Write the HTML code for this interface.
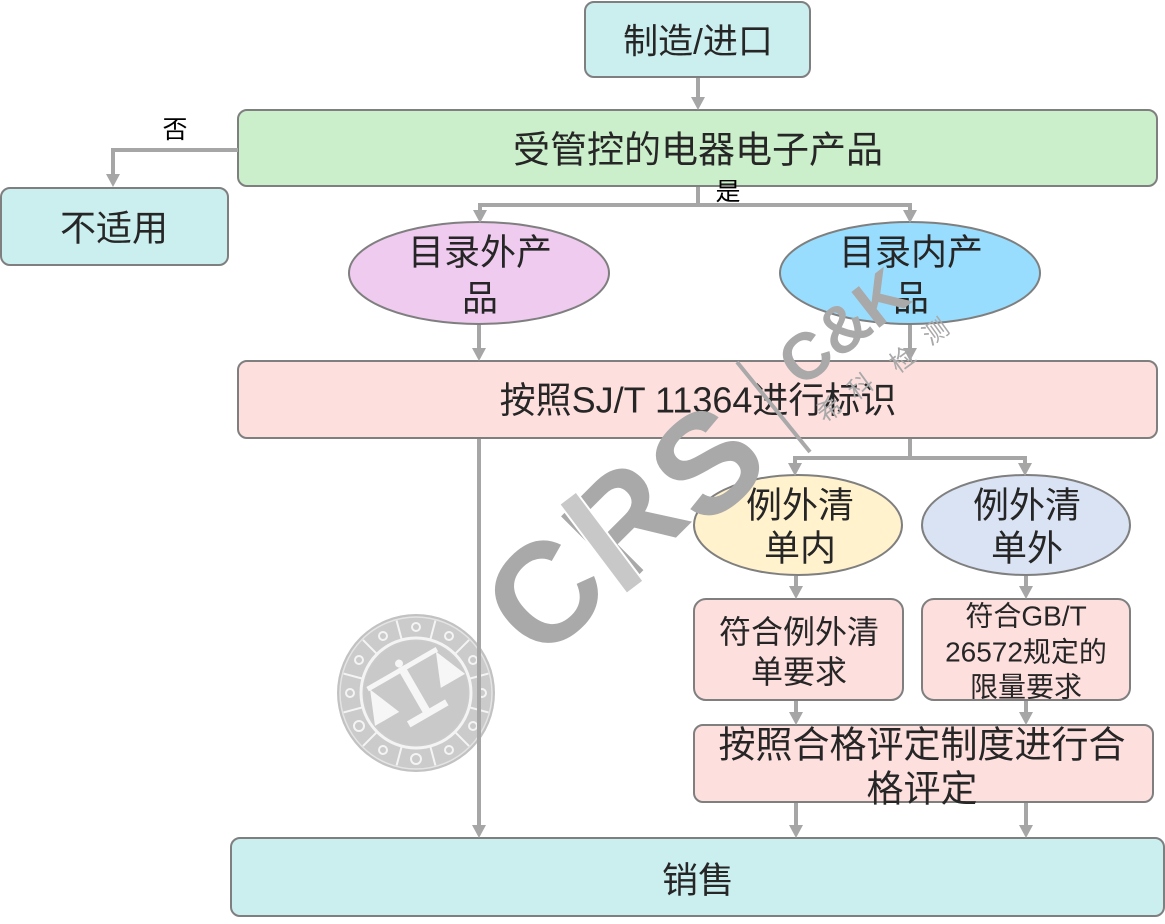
<!DOCTYPE html>
<html><head><meta charset="utf-8"><style>
html,body{margin:0;padding:0;background:#fff;}
svg{display:block;}
text{font-family:"Liberation Sans","Noto Sans CJK SC",sans-serif;}
</style></head><body>
<svg width="1165" height="924" viewBox="0 0 1165 924" xmlns="http://www.w3.org/2000/svg">
<!-- boxes -->
<g stroke="#7f7f7f" stroke-width="2">
<rect x="585" y="2" width="225" height="75" rx="9" fill="#cbeeee"/>
<rect x="238" y="110" width="919" height="76" rx="9" fill="#ccefcb"/>
<rect x="1" y="188" width="227" height="77" rx="9" fill="#cbeeee"/>
<ellipse cx="479" cy="273" rx="130" ry="51" fill="#efcbef"/>
<ellipse cx="910" cy="273" rx="130" ry="51" fill="#99ddfe"/>
<rect x="238" y="361" width="919" height="77" rx="9" fill="#fddfde"/>
<ellipse cx="798" cy="525" rx="104" ry="50" fill="#fff2cc"/>
<ellipse cx="1026" cy="525" rx="104" ry="50" fill="#dae3f3"/>
<rect x="694" y="599" width="209" height="101" rx="12" fill="#fddfde"/>
<rect x="922" y="599" width="208" height="101" rx="12" fill="#fddfde"/>
<rect x="694" y="725" width="459" height="77" rx="9" fill="#fddfde"/>
<rect x="231" y="838" width="933" height="78" rx="9" fill="#cbeeee"/>
</g>

<!-- seal -->
<g transform="translate(416,693)">
<circle r="79" fill="#c2c2c2"/>
<circle r="76" fill="#cbcbcb" stroke="#e4e4e4" stroke-width="1.5"/>
<g stroke="#f4f4f4" stroke-width="2">
<line x1="0" y1="-56" x2="0" y2="-75" transform="rotate(15)"/>
<line x1="0" y1="-56" x2="0" y2="-75" transform="rotate(45)"/>
<line x1="0" y1="-56" x2="0" y2="-75" transform="rotate(75)"/>
<line x1="0" y1="-56" x2="0" y2="-75" transform="rotate(105)"/>
<line x1="0" y1="-56" x2="0" y2="-75" transform="rotate(135)"/>
<line x1="0" y1="-56" x2="0" y2="-75" transform="rotate(165)"/>
<line x1="0" y1="-56" x2="0" y2="-75" transform="rotate(195)"/>
<line x1="0" y1="-56" x2="0" y2="-75" transform="rotate(225)"/>
<line x1="0" y1="-56" x2="0" y2="-75" transform="rotate(255)"/>
<line x1="0" y1="-56" x2="0" y2="-75" transform="rotate(285)"/>
<line x1="0" y1="-56" x2="0" y2="-75" transform="rotate(315)"/>
<line x1="0" y1="-56" x2="0" y2="-75" transform="rotate(345)"/>
</g>
<circle r="55" fill="none" stroke="#f4f4f4" stroke-width="3"/>
<circle r="52" fill="#c9c9c9"/>
<g fill="none" stroke="#f4f4f4" stroke-width="2">
<circle cx="0" cy="-66" r="4"/>
<circle cx="33" cy="-57" r="4"/>
<circle cx="57" cy="-33" r="4"/>
<circle cx="66" cy="0" r="4"/>
<circle cx="57" cy="33" r="4"/>
<circle cx="33" cy="57" r="4"/>
<circle cx="0" cy="66" r="5"/>
<circle cx="-33" cy="57" r="4"/>
<circle cx="-57" cy="33" r="5"/>
<circle cx="-66" cy="0" r="4"/>
<circle cx="-57" cy="-33" r="4"/>
<circle cx="-33" cy="-57" r="4"/>
</g>
<g fill="#f6f6f6" transform="rotate(-30)">
<rect x="-40" y="-30" width="80" height="5"/>
<rect x="-4" y="-30" width="8" height="52"/>
<rect x="-22" y="20" width="44" height="7"/>
<polygon points="-38,-26 -52,8 -24,8"/>
<polygon points="38,-26 24,8 52,8"/>
<circle cx="0" cy="-34" r="4"/>
</g>
</g>

<!-- connectors -->
<g stroke="#a6a6a6" stroke-width="4" fill="none">
<line x1="698" y1="78" x2="698" y2="99"/>
<polyline points="238,150 113,150 113,176"/>
<line x1="698" y1="187" x2="698" y2="205"/>
<polyline points="480,212 480,205 910,205 910,212"/>
<line x1="479" y1="325" x2="479" y2="350"/>
<line x1="910" y1="325" x2="910" y2="350"/>
<line x1="479" y1="439" x2="479" y2="827"/>
<line x1="910" y1="439" x2="910" y2="458"/>
<polyline points="795,465 795,458 1025,458 1025,465"/>
<line x1="796" y1="576" x2="796" y2="588"/>
<line x1="1026" y1="576" x2="1026" y2="588"/>
<line x1="796" y1="701" x2="796" y2="714"/>
<line x1="1026" y1="701" x2="1026" y2="714"/>
<line x1="796" y1="803" x2="796" y2="827"/>
<line x1="1026" y1="803" x2="1026" y2="827"/>
</g>
<g fill="#a6a6a6">
<polygon points="691,97 705,97 698,110"/>
<polygon points="106,174 120,174 113,187"/>
<polygon points="473,210 487,210 480,223"/>
<polygon points="903,210 917,210 910,223"/>
<polygon points="472,348 486,348 479,361"/>
<polygon points="903,348 917,348 910,361"/>
<polygon points="472,825 486,825 479,838"/>
<polygon points="788,463 802,463 795,476"/>
<polygon points="1018,463 1032,463 1025,476"/>
<polygon points="789,586 803,586 796,599"/>
<polygon points="1019,586 1033,586 1026,599"/>
<polygon points="789,712 803,712 796,725"/>
<polygon points="1019,712 1033,712 1026,725"/>
<polygon points="789,825 803,825 796,838"/>
<polygon points="1019,825 1033,825 1026,838"/>
</g>

<!-- labels -->
<g fill="#262626" text-anchor="middle" dominant-baseline="central">
<text x="698" y="42" font-size="35">制造/进口</text>
<text x="698" y="150" font-size="37">受管控的电器电子产品</text>
<text x="114" y="228" font-size="36">不适用</text>
<text x="480" y="252" font-size="36">目录外产</text>
<text x="480" y="298" font-size="36">品</text>
<text x="911" y="252" font-size="36">目录内产</text>
<text x="911" y="298" font-size="36">品</text>
<text x="698" y="400" font-size="36">按照SJ/T 11364进行标识</text>
<text x="800" y="505" font-size="36">例外清</text>
<text x="800" y="548" font-size="36">单内</text>
<text x="1027" y="505" font-size="36">例外清</text>
<text x="1027" y="548" font-size="36">单外</text>
<text x="799" y="632" font-size="32">符合例外清</text>
<text x="799" y="672" font-size="32">单要求</text>
<text x="1026" y="616" font-size="28">符合GB/T</text>
<text x="1026" y="652" font-size="28">26572规定的</text>
<text x="1026" y="687" font-size="28">限量要求</text>
<text x="922" y="745" font-size="37">按照合格评定制度进行合</text>
<text x="922" y="789" font-size="37">格评定</text>
<text x="698" y="880" font-size="36">销售</text>
</g>
<g fill="#000" text-anchor="middle" dominant-baseline="central" font-size="25">
<text x="175" y="130">否</text>
<text x="728" y="192">是</text>
</g>

<!-- watermark -->
<g fill="#a9a9a9" text-anchor="middle" dominant-baseline="central" font-weight="bold">
<text x="545" y="594" font-size="142" transform="rotate(-45 545 594)">C</text>
<text x="624" y="521" font-size="140" transform="rotate(-45 624 521)">R</text>
<text x="707" y="463" font-size="142" transform="rotate(-42 707 463)">S</text>
<text x="843" y="327" font-size="66" transform="rotate(-38 843 327)">C&amp;K</text>
</g>
<rect x="591" y="487" width="21" height="112" fill="#c8c8c8" stroke="#ffffff" stroke-width="2" transform="rotate(-37 601 543)"/>
<line x1="737" y1="362" x2="810" y2="452" stroke="#a9a9a9" stroke-width="4"/>
<g fill="#a9a9a9" text-anchor="middle" dominant-baseline="central" font-size="25">
<text x="830" y="410" transform="rotate(-36 830 410)">希</text>
<text x="861" y="387" transform="rotate(-36 861 387)">科</text>
<text x="903" y="360" transform="rotate(-36 903 360)">检</text>
<text x="936" y="332" transform="rotate(-36 936 332)">测</text>
</g>
</svg>
</body></html>
